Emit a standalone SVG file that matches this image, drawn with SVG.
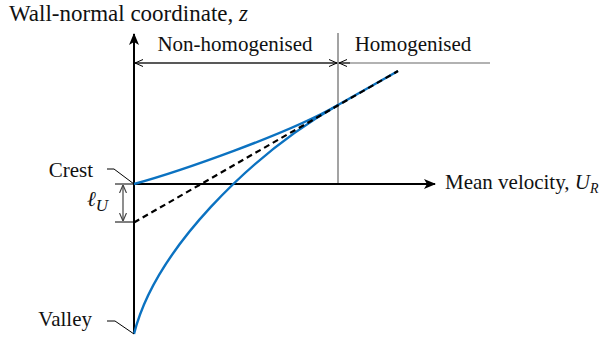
<svg xmlns="http://www.w3.org/2000/svg" width="602" height="338" viewBox="0 0 602 338">
<defs>
<marker id="ax" viewBox="0 0 12 10" refX="11" refY="5" markerWidth="12" markerHeight="10" markerUnits="userSpaceOnUse" orient="auto">
<path d="M0,0 L12,5 L0,10 L3,5 Z" fill="#000"/>
</marker>
<marker id="br" viewBox="0 0 8 8" refX="8" refY="4" markerWidth="8" markerHeight="8" markerUnits="userSpaceOnUse" orient="auto-start-reverse">
<path d="M0,0.5 L8,4 L0,7.5" fill="none" stroke="#000" stroke-width="1"/>
</marker>
<marker id="lu" viewBox="0 0 8 8" refX="8" refY="4" markerWidth="8" markerHeight="8" markerUnits="userSpaceOnUse" orient="auto-start-reverse">
<path d="M0,0.5 L8,4 L0,7.5" fill="none" stroke="#444" stroke-width="1.2"/>
</marker>
</defs>
<style>
.it{font-style:italic}
.axis{stroke:#000;stroke-width:2;fill:none}
.thin{stroke:#666;stroke-width:1.2;fill:none}
.lead{stroke:#000;stroke-width:1;fill:none}
.blue{stroke:#0b72c1;stroke-width:2.4;fill:none}
.dash{stroke:#000;stroke-width:2.2;stroke-dasharray:6,4;fill:none}
</style>
<g id="connectors">
<line class="thin" x1="338" y1="33" x2="338" y2="184"/>
<line class="thin" x1="134" y1="63" x2="490" y2="63"/>
<line class="lead" x1="135" y1="63" x2="337" y2="63" marker-start="url(#br)" marker-end="url(#br)"/>
<line class="lead" x1="339" y1="63" x2="350" y2="63" marker-start="url(#br)"/>
<line class="axis" x1="134" y1="334" x2="134" y2="34" marker-end="url(#ax)"/>
<line class="axis" x1="134" y1="184" x2="435" y2="184" marker-end="url(#ax)"/>
<path class="blue" d="M134,184 C178,172 288,134 338,105 L398,71"/>
<path class="blue" d="M134,334 C155,250 250,155.5 338,105"/>
<line class="dash" x1="134" y1="222.5" x2="398" y2="71"/>
<line class="lead" x1="115" y1="184" x2="134" y2="184"/>
<line class="lead" x1="115" y1="222" x2="134" y2="222"/>
<line x1="123" y1="185" x2="123" y2="221" stroke="#444" stroke-width="1.2" marker-start="url(#lu)" marker-end="url(#lu)"/>
<polyline class="lead" points="107,169 114,169 134,184"/>
<polyline class="lead" points="107,321 115,321 134,334"/>
</g>
<g font-family="Liberation Serif, Times New Roman, serif" font-size="21" fill="#111">
<g id="z-label"><text x="9" y="21" font-size="23">Wall-normal coordinate, <tspan class="it">z</tspan></text></g>
<g id="non-homogenised"><text x="235" y="51" text-anchor="middle">Non-homogenised</text></g>
<g id="homogenised"><text x="413" y="51" text-anchor="middle">Homogenised</text></g>
<g id="crest"><text x="93" y="177" text-anchor="end">Crest</text></g>
<g id="valley"><text x="92" y="326" text-anchor="end">Valley</text></g>
<g id="lU"><text x="87" y="206" class="it">ℓ<tspan font-size="17" dy="5">U</tspan></text></g>
<g id="u-label"><text x="445" y="189">Mean velocity, <tspan class="it">U</tspan><tspan class="it" font-size="14" dy="4">R</tspan></text></g>
</g>
</svg>
